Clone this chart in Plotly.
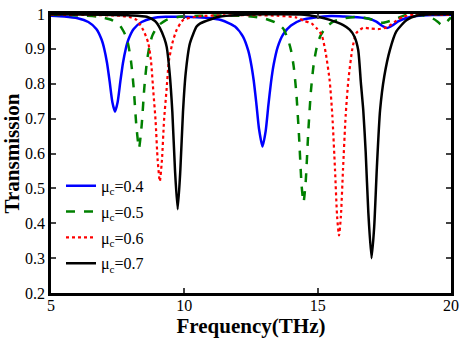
import plotly.graph_objects as go

# --- data ---
f_04 = [5.0, 5.5, 6.0, 6.4, 6.7, 6.9, 7.0, 7.1, 7.2, 7.3, 7.4, 7.5, 7.6, 7.7, 7.8, 7.9, 8.1, 8.4, 8.8,
        9.3, 10.0, 10.8, 11.4, 11.9, 12.2, 12.4, 12.5, 12.6, 12.7, 12.8, 12.93, 13.05, 13.15, 13.25, 13.35,
        13.5, 13.7, 14.0, 14.4, 14.9, 15.5, 16.0, 16.5, 16.9, 17.2, 17.4, 17.6, 17.8, 18.0, 18.3, 18.7,
        19.3, 20.0]
t_04 = [0.995, 0.993, 0.988, 0.977, 0.957, 0.926, 0.899, 0.86, 0.806, 0.748, 0.72, 0.748, 0.806, 0.86,
        0.899, 0.926, 0.957, 0.977, 0.988, 0.992, 0.992, 0.989, 0.982, 0.964, 0.935, 0.894, 0.859, 0.81,
        0.744, 0.671, 0.62, 0.664, 0.737, 0.804, 0.855, 0.905, 0.941, 0.967, 0.983, 0.99, 0.994, 0.993,
        0.991, 0.987, 0.978, 0.967, 0.96, 0.967, 0.978, 0.988, 0.994, 0.997, 0.998]

f_05 = [5.0, 6.0, 6.8, 7.3, 7.6, 7.8, 7.9, 8.0, 8.1, 8.2, 8.3, 8.4, 8.5, 8.6, 8.7, 8.8, 9.0, 9.3, 9.8,
        10.6, 11.5, 12.5, 13.0, 13.4, 13.7, 13.9, 14.0, 14.1, 14.2, 14.3, 14.4, 14.47, 14.55, 14.65, 14.75,
        14.85, 14.95, 15.1, 15.3, 15.6, 16.0, 16.5, 17.0, 17.45, 17.9, 18.3, 18.9, 19.3, 19.5, 19.65,
        19.8, 20.0]
t_05 = [0.998, 0.996, 0.992, 0.982, 0.965, 0.938, 0.911, 0.865, 0.789, 0.681, 0.615, 0.681, 0.789, 0.865,
        0.911, 0.938, 0.965, 0.982, 0.992, 0.995, 0.996, 0.993, 0.987, 0.976, 0.959, 0.924, 0.896, 0.85,
        0.773, 0.651, 0.506, 0.46, 0.518, 0.665, 0.782, 0.855, 0.899, 0.937, 0.961, 0.979, 0.988, 0.992,
        0.985, 0.975, 0.985, 0.997, 0.997, 0.988, 0.978, 0.968, 0.975, 0.99]

f_06 = [5.0, 6.5, 7.6, 8.0, 8.21, 8.46, 8.65, 8.75, 8.84, 8.92, 9.0, 9.08, 9.16, 9.24, 9.33, 9.42, 9.55,
        9.71, 9.96, 10.5, 11.5, 12.5, 13.5, 14.2, 14.5, 14.77, 14.96, 15.15, 15.3, 15.45, 15.55, 15.65,
        15.73, 15.8, 15.87, 15.95, 16.05, 16.15, 16.3, 16.45, 16.7, 17.0, 17.3, 17.6, 17.9, 18.2, 18.6,
        19.5, 20.0]
t_06 = [0.998, 0.997, 0.995, 0.99, 0.983, 0.954, 0.916, 0.865, 0.775, 0.696, 0.581, 0.52, 0.581, 0.696,
        0.78, 0.865, 0.916, 0.954, 0.983, 0.993, 0.996, 0.997, 0.995, 0.99, 0.98, 0.973, 0.959, 0.94,
        0.889, 0.809, 0.709, 0.554, 0.419, 0.365, 0.419, 0.554, 0.709, 0.809, 0.9, 0.945, 0.96, 0.958,
        0.957, 0.962, 0.978, 0.992, 0.998, 0.998, 0.997]

f_07 = [5.0, 7.0, 8.0, 8.59, 8.9, 9.09, 9.25, 9.34, 9.45, 9.55, 9.65, 9.75, 9.85, 9.95, 10.05, 10.21,
        10.46, 10.6, 11.0, 11.3, 12.0, 13.0, 14.5, 15.0, 15.46, 15.96, 16.2, 16.38, 16.52, 16.62, 16.71, 16.8,
        16.9, 17.02, 17.12, 17.22, 17.34, 17.5, 17.71, 17.95, 18.34, 18.7, 19.3, 20.0]
t_07 = [0.999, 0.998, 0.996, 0.992, 0.98, 0.959, 0.93, 0.905, 0.83, 0.72, 0.552, 0.44, 0.552, 0.72, 0.83,
        0.916, 0.964, 0.973, 0.985, 0.992, 0.997, 0.999, 0.998, 0.992, 0.983, 0.968, 0.955, 0.935, 0.897, 0.803,
        0.724, 0.605, 0.431, 0.3, 0.39, 0.56, 0.724, 0.822, 0.897, 0.95, 0.983, 0.995, 0.999, 1.0]

names = ["μ<sub>c</sub>=0.4", "μ<sub>c</sub>=0.5", "μ<sub>c</sub>=0.6", "μ<sub>c</sub>=0.7"]
x_ticks = [5, 10, 15, 20]
y_ticks = [0.2, 0.3, 0.4, 0.5, 0.6, 0.7, 0.8, 0.9, 1]

series = [(f_04, t_04, "#0000FF", "solid", 2.5),
          (f_05, t_05, "#008000", "dash", 2.5),
          (f_06, t_06, "#FF0000", "dot", 2.2),
          (f_07, t_07, "#000000", "solid", 2.5)]

fig = go.Figure()
for i, (fx, ty, col, dash, w) in enumerate(series):
    fig.add_trace(go.Scatter(x=fx, y=ty, mode="lines", name=names[i], legendgroup=str(i),
                             line=dict(color=col, dash=dash, width=w, shape="spline", smoothing=0.6)))

serif = "Liberation Serif"
fig.update_layout(
    width=462, height=339,
    margin=dict(l=51, r=11, t=14, b=46),
    paper_bgcolor="white", plot_bgcolor="white",
    font=dict(family=serif, size=16, color="black"),
    showlegend=True,
    legend=dict(x=0.025, y=0.445, xanchor="left", yanchor="top", bgcolor="rgba(0,0,0,0)",
                font=dict(family=serif, size=16, color="black"), tracegroupgap=2,
                itemwidth=30),
)
fig.update_xaxes(range=[5, 20], tickvals=x_ticks, ticks="inside", ticklen=5, tickwidth=1.5,
                 showline=True, linewidth=2.5, linecolor="black", mirror="ticks", showgrid=False,
                 zeroline=False, tickfont=dict(family=serif, size=16), automargin=False,
                 ticklabelstandoff=-4,
                 title=dict(text="<b>Frequency(THz)</b>", font=dict(family=serif, size=21), standoff=2))
fig.update_yaxes(range=[0.2, 1], tickvals=y_ticks, ticks="inside", ticklen=5, tickwidth=1.5,
                 showline=True, linewidth=2.5, linecolor="black", mirror="ticks", showgrid=False,
                 zeroline=False, tickfont=dict(family=serif, size=16), automargin=False,
                 title=dict(text="<b>Transmission</b>", font=dict(family=serif, size=21), standoff=6))

fig.write_html("out.html", config={"displayModeBar": False},
               post_script="document.body.style.margin='0';")
